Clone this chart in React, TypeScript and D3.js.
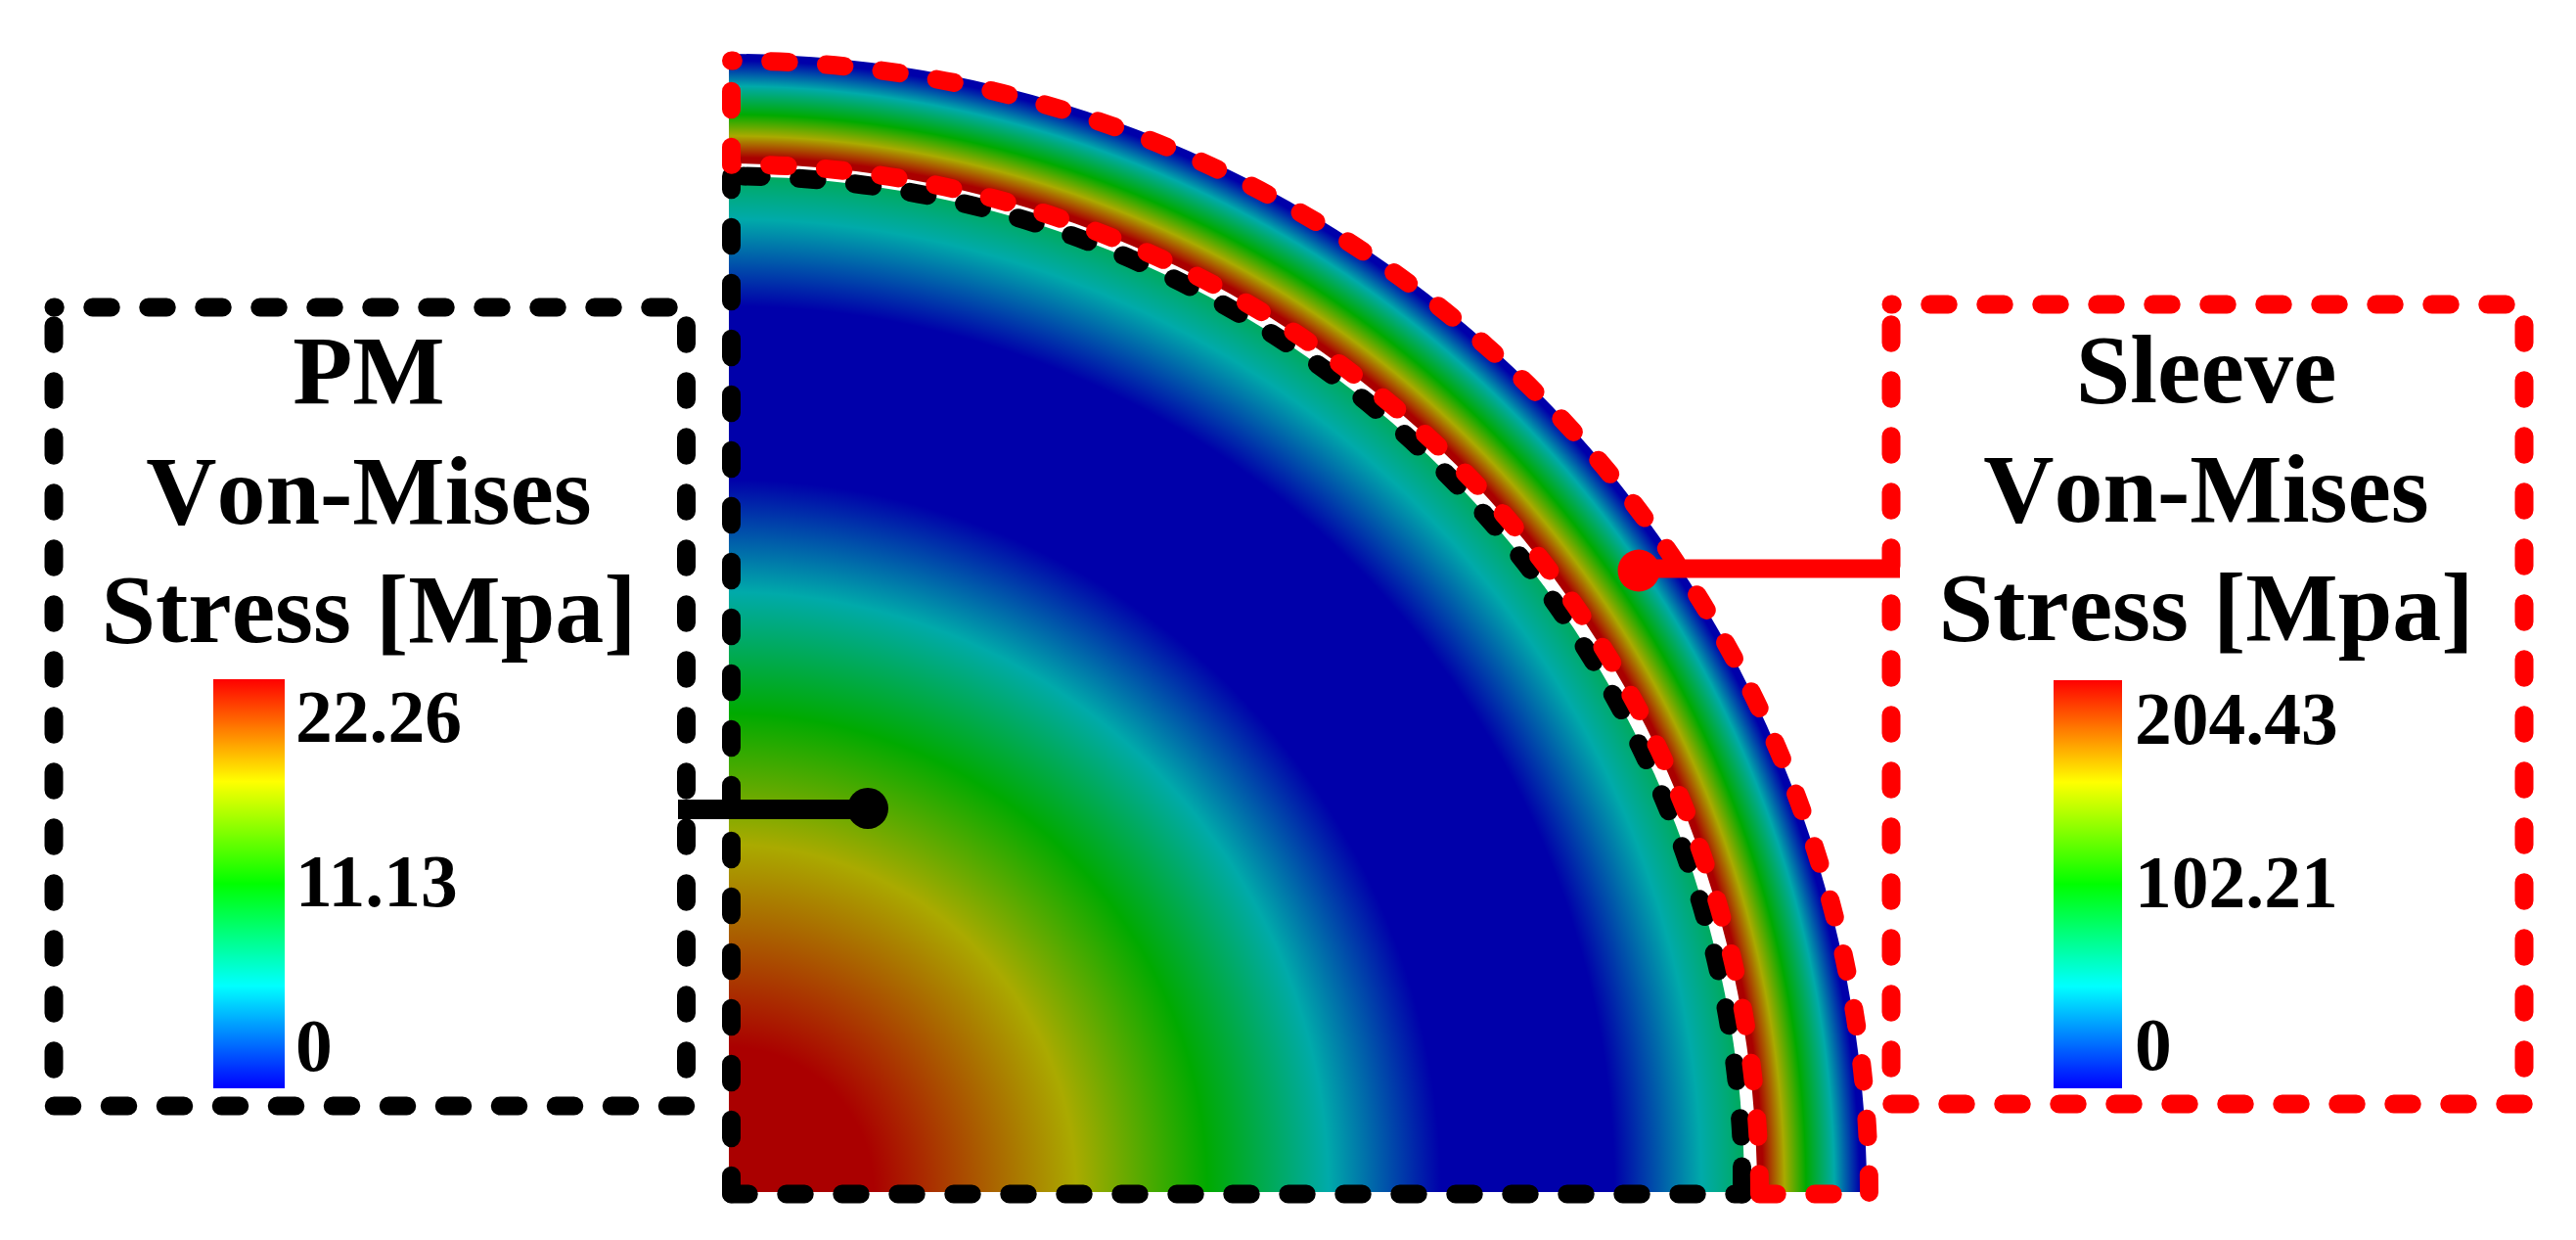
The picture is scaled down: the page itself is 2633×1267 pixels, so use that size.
import React from "react";
import * as d3 from "d3";

// ---- data ----
const pmRadii = [0, 148, 355, 489, 613, 728, 905, 994, 1038];
const pmLevels = [1, 1, 0.75, 0.5, 0.25, 0, 0, 0.25, 0.36];
const sleeveRadii = [1051, 1057, 1079, 1101, 1130, 1156, 1163];
const sleeveLevels = [1, 1, 0.75, 0.5, 0.25, 0, 0];
const jetLevels = [0, 0.25, 0.5, 0.75, 1];
const jetColors = ["#0000ff", "#00ffff", "#00ff00", "#ffff00", "#ff0000"];
const pmTicks = [0, 11.13, 22.26];
const pmTickLabels = ["0", "11.13", "22.26"];
const sleeveTicks = [0, 102.21, 204.43];
const sleeveTickLabels = ["0", "102.21", "204.43"];
const pmTitle = ["PM", "Von-Mises", "Stress [Mpa]"];
const sleeveTitle = ["Sleeve", "Von-Mises", "Stress [Mpa]"];

// ---- layout ----
const W = 2633, H = 1267;
const CX = 745, CY = 1218;
const OUTLINE_X = 747.5, OUTLINE_Y = 1220;
const PERIOD = 57, DASH = 18.5, SW = 19;
const FONT = "'Liberation Serif', 'Times New Roman', serif";

const jet = d3.scaleLinear<string>().domain(jetLevels).range(jetColors).interpolate(d3.interpolateRgb);
const dim = (v: number) => {
  const c = d3.rgb(jet(v));
  return d3.rgb(c.r * (170 / 255), c.g * (170 / 255), c.b * (170 / 255)).formatHex();
};

function Dashed({ d, first, color, period = PERIOD }: { d: string; first: number; color: string; period?: number }) {
  // `first` = distance along the path of the centre of a dash
  const off = period - ((first - DASH / 2) % period);
  return (
    <path d={d} fill="none" stroke={color} strokeWidth={SW} strokeLinecap="round" strokeLinejoin="round"
      strokeDasharray={`${DASH} ${period - DASH}`} strokeDashoffset={off} />
  );
}

function Box({ x0, x1, y0, y1, color, topFirst, sideFirst, bottomFirst }: any) {
  return (
    <g>
      <Dashed d={`M${x0},${y0}H${x1}`} first={topFirst} color={color} />
      <Dashed d={`M${x0},${y0}V${y1}`} first={sideFirst} color={color} />
      <Dashed d={`M${x1},${y0}V${y1}`} first={sideFirst} color={color} />
      <Dashed d={`M${x0},${y1}H${x1}`} first={bottomFirst} color={color} />
    </g>
  );
}

function Legend({ id, x, w, y0, y1, ticks, labels, base0, base1, labelX, title, titleX, titleBases }: any) {
  const y = d3.scaleLinear().domain([ticks[0], ticks[2]]).range([base0, base1]);
  return (
    <g fontFamily={FONT} fontWeight="bold" fill="#000">
      <defs>
        <linearGradient id={id} x1="0" y1="1" x2="0" y2="0">
          {jetLevels.map((v, i) => <stop key={i} offset={v} stopColor={jetColors[i]} />)}
        </linearGradient>
      </defs>
      <rect x={x} y={y0} width={w} height={y1 - y0} fill={`url(#${id})`} />
      {ticks.map((t: number, i: number) => (
        <text key={t} x={labelX} y={y(t)} fontSize={75.5}>{labels[i]}</text>
      ))}
      {title.map((s: string, i: number) => (
        <text key={i} x={titleX} y={titleBases[i]} fontSize={100} textAnchor="middle"
          style={{ fontKerning: "none" }}>{s}</text>
      ))}
    </g>
  );
}

export default function App() {
  const arc = d3.arc();
  const pmPath = arc({ innerRadius: 0, outerRadius: pmRadii[pmRadii.length - 1], startAngle: 0, endAngle: Math.PI / 2 } as any)!;
  const slPath = arc({ innerRadius: sleeveRadii[0], outerRadius: sleeveRadii[sleeveRadii.length - 1], startAngle: 0, endAngle: Math.PI / 2 } as any)!;
  const pmMax = pmRadii[pmRadii.length - 1];
  const slMax = sleeveRadii[sleeveRadii.length - 1];

  const X = OUTLINE_X, Y = OUTLINE_Y;
  const blackR = [1034, 1040], redOut = [1163, 1158], redIn = [1051, 1052];

  return (
    <svg width={W} height={H} viewBox={`0 0 ${W} ${H}`} style={{ position: "absolute", left: 0, top: 0, display: "block" }}>
      <rect width={W} height={H} fill="#fff" />
      <defs>
        <radialGradient id="pmGrad" gradientUnits="userSpaceOnUse" cx={0} cy={0} r={pmMax}>
          {pmRadii.map((r, i) => <stop key={i} offset={r / pmMax} stopColor={dim(pmLevels[i])} />)}
        </radialGradient>
        <radialGradient id="slGrad" gradientUnits="userSpaceOnUse" cx={0} cy={0} r={slMax}>
          {sleeveRadii.map((r, i) => <stop key={i} offset={r / slMax} stopColor={dim(sleeveLevels[i])} />)}
        </radialGradient>
      </defs>
      <g transform={`translate(${CX},${CY})`}>
        <path d={pmPath} fill="url(#pmGrad)" />
        <path d={slPath} fill="url(#slGrad)" />
      </g>

      {/* PM outline */}
      <Dashed d={`M${X},${Y}V${Y - blackR[1]}`} first={Y - 1153.5} color="#000" />
      <Dashed d={`M${X},${Y}H${X + blackR[0]}`} first={813 - X} color="#000" />
      <Dashed d={`M${X},${Y - blackR[1]}A${blackR[0]},${blackR[1]} 0 0 1 ${X + blackR[0]},${Y}`} first={769 - X} color="#000" />
      <path d={`M${X + blackR[0] - 1},${Y}V${Y - 28}`} stroke="#000" strokeWidth={SW} strokeLinecap="round" />

      {/* Sleeve outline */}
      <Dashed d={`M${X},${Y - redOut[1]}V${Y - redIn[1]}`} first={102.5 - (Y - redOut[1])} color="#f00" />
      <Dashed d={`M${X},${Y - redOut[1]}A${redOut[0]},${redOut[1]} 0 0 1 ${X + redOut[0]},${Y}`} first={797 - X} color="#f00" period={56.85} />
      <Dashed d={`M${X},${Y - redIn[1]}A${redIn[0]},${redIn[1]} 0 0 1 ${X + redIn[0]},${Y}`} first={796 - X} color="#f00" period={56.85} />
      <Dashed d={`M${X + redIn[0]},${Y}H${X + redOut[0]}`} first={1807 - (X + redIn[0])} color="#f00" />

      <Box x0={55} x1={701.5} y0={314} y1={1130} color="#000" topFirst={49} sideFirst={28} bottomFirst={9.5} />
      <Box x0={1933} x1={2580} y0={311} y1={1128} color="#f00" topFirst={49} sideFirst={30} bottomFirst={10} />

      {/* Connectors */}
      <line x1={693} x2={887} y1={827} y2={827} stroke="#000" strokeWidth={20} />
      <circle cx={887} cy={826} r={21} fill="#000" />
      <line x1={1675} x2={1942} y1={581} y2={581} stroke="#f00" strokeWidth={19} />
      <circle cx={1675} cy={583} r={21.5} fill="#f00" />

      <Legend id="lg1" x={218} w={73} y0={694} y1={1112} ticks={pmTicks} labels={pmTickLabels} base0={1094} base1={758}
        labelX={302} title={pmTitle} titleX={377} titleBases={[412, 535, 656]} />
      <Legend id="lg2" x={2099} w={70} y0={695} y1={1112} ticks={sleeveTicks} labels={sleeveTickLabels} base0={1093} base1={760}
        labelX={2182} title={sleeveTitle} titleX={2255} titleBases={[411, 533, 654]} />
    </svg>
  );
}
